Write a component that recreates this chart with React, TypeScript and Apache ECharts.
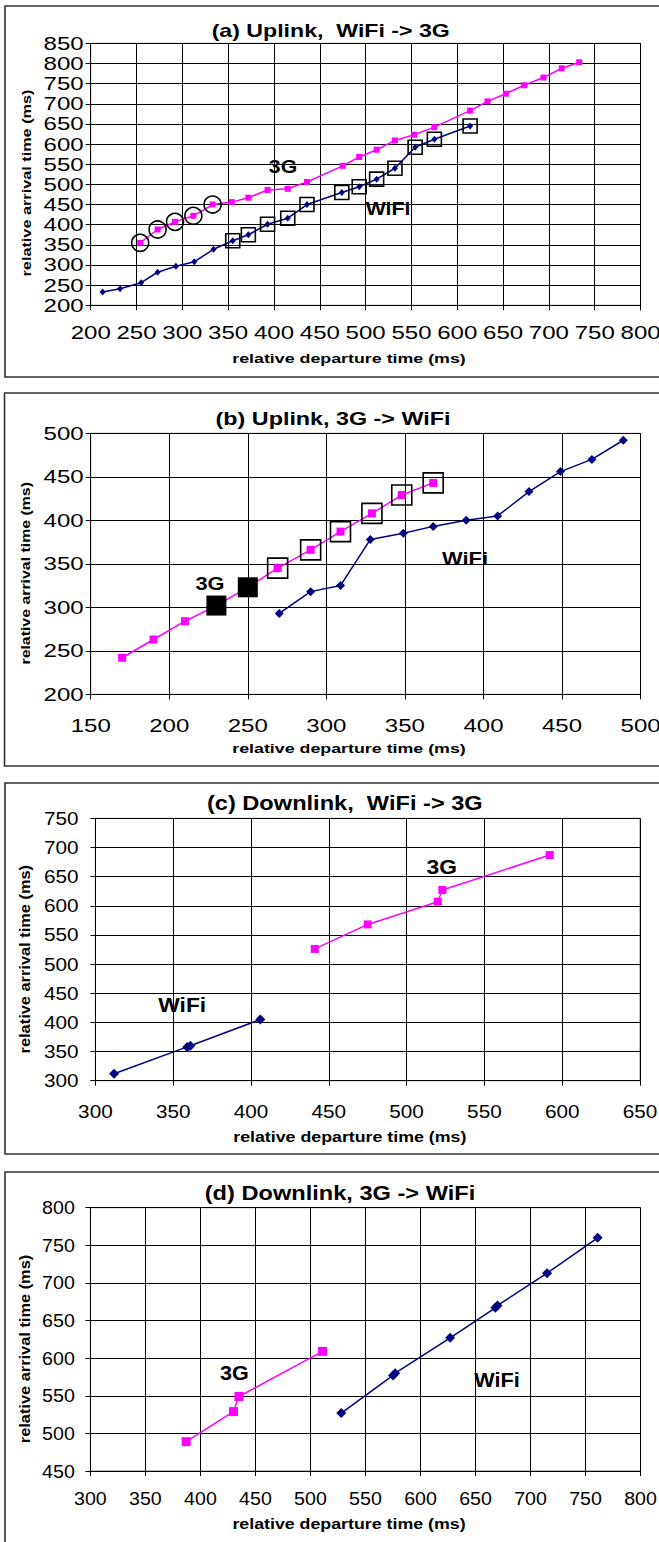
import React, { useEffect, useRef } from "react";
import * as echarts from "echarts";

// ---------- Panel (a) Uplink, WiFi -> 3G ----------
const aTitle = "(a) Uplink,  WiFi -> 3G";
const aXAxis = [200, 800, 50];
const aYAxis = [200, 850, 50];
const a3GX = [254, 273, 292, 312, 333, 354, 372, 393, 415, 436, 475, 493, 512, 532, 553, 575, 614, 633, 653, 673, 694, 714, 733];
const a3GY = [355, 388, 407, 422, 450, 456, 467, 486, 489, 506, 546, 568, 586, 609, 623, 642, 683, 706, 725, 746, 765, 788, 803];
const aWiFiX = [213, 232, 255, 273, 293, 313, 334, 355, 372, 393, 415, 436, 474, 493, 512, 532, 554, 575, 614];
const aWiFiY = [233, 241, 256, 282, 297, 308, 339, 360, 375, 401, 416, 450, 480, 494, 513, 540, 592, 612, 645];
const aCircled3G = [0, 1, 2, 3, 4];
const aBoxedWiFi = [7, 8, 9, 10, 11, 12, 13, 14, 15, 16, 17, 18];

// ---------- Panel (b) Uplink, 3G -> WiFi ----------
const bTitle = "(b) Uplink, 3G -> WiFi";
const bXAxis = [150, 500, 50];
const bYAxis = [200, 500, 50];
const b3GX = [170, 190, 210, 230, 250, 269, 290, 309, 329, 348, 368];
const b3GY = [242, 263, 284, 302, 323, 345, 366, 387, 408, 429, 443];
const bWiFiX = [270, 290, 309, 328, 349, 368, 389, 409, 429, 449, 469, 489];
const bWiFiY = [293, 318, 325, 378, 385, 393, 400, 405, 433, 456, 470, 492];
const bFilled3G = [3, 4];
const bBoxed3G = [5, 6, 7, 8, 9, 10];

// ---------- Panel (c) Downlink, WiFi -> 3G ----------
const cTitle = "(c) Downlink,  WiFi -> 3G";
const cXAxis = [300, 650, 50];
const cYAxis = [300, 750, 50];
const c3GX = [441, 475, 520, 523, 592];
const c3GY = [526, 568, 607, 627, 687];
const cWiFiX = [312, 359, 361, 406];
const cWiFiY = [312, 358, 360, 405];

// ---------- Panel (d) Downlink, 3G -> WiFi ----------
const dTitle = "(d) Downlink, 3G -> WiFi";
const dXAxis = [300, 800, 50];
const dYAxis = [450, 800, 50];
const d3GX = [387, 430, 435, 511];
const d3GY = [489, 529, 549, 609];
const dWiFiX = [528, 575, 577, 627, 668, 670, 715, 761];
const dWiFiY = [527, 577, 580, 627, 667, 670, 713, 760];

const xName = "relative departure time (ms)";
const yName = "relative arrival time (ms)";

const FONT = "'Liberation Sans', Arial, sans-serif";
const MAGENTA = "#FF00FF";
const NAVY = "#000080";

const zip = (xs: number[], ys: number[]) => xs.map((x, i) => [x, ys[i]]);
const pick = (xs: number[], ys: number[], idx: number[]) => idx.map((i) => [xs[i], ys[i]]);

type Panel = {
  top: number;
  height: number;
  title: string;
  xAxis: number[];
  yAxis: number[];
  grid: { left: number; right: number; top: number; bottom: number };
  frame: { x: number; y: number; h: number };
  titlePos: number[];
  titleSize: number;
  namePos: { x: number[]; y: number[] };
  nameSize: number;
  labels: { text: string; pos: number[] }[];
  labelSize: number;
  xLabelMargin: number;
  yLabelMargin: number;
  tickSize: number;
  stretch: { tick: number; title: number; xName: number; yName: number; label: number };
  series3G: number[][];
  seriesWiFi: number[][];
  square: number;
  diamond: number[];
  extras: any[];
};

const panels: Panel[] = [
  {
    top: 0,
    height: 385,
    title: aTitle,
    xAxis: aXAxis,
    yAxis: aYAxis,
    grid: { left: 90.7, right: 16.3, top: 43.3, bottom: 79.7 },
    frame: { x: 5, y: 6, h: 371 },
    titlePos: [330.7, 30.5],
    titleSize: 18.5,
    namePos: { x: [349, 358], y: [26.5, 183] },
    nameSize: 13,
    labels: [
      { text: "3G", pos: [283, 166] },
      { text: "WiFi", pos: [388, 208.5] },
    ],
    labelSize: 18.5,
    xLabelMargin: 18,
    yLabelMargin: 7,
    tickSize: 18.5,
    stretch: { tick: 1.3, title: 1.25, xName: 1.37, yName: 1.25, label: 1.15 },
    series3G: zip(a3GX, a3GY),
    seriesWiFi: zip(aWiFiX, aWiFiY),
    square: 6,
    diamond: [6, 7],
    extras: [
      { kind: "circle", size: 17, data: pick(a3GX, a3GY, aCircled3G) },
      { kind: "box", size: 14, data: pick(aWiFiX, aWiFiY, aBoxedWiFi) },
    ],
  },
  {
    top: 385,
    height: 390,
    title: bTitle,
    xAxis: bXAxis,
    yAxis: bYAxis,
    grid: { left: 90.7, right: 15.7, top: 48.3, bottom: 80.7 },
    frame: { x: 4.5, y: 8, h: 373 },
    titlePos: [333, 33],
    titleSize: 18.5,
    namePos: { x: [349, 363.3], y: [25.3, 188.3] },
    nameSize: 13,
    labels: [
      { text: "3G", pos: [210, 198.3] },
      { text: "WiFi", pos: [465, 173.3] },
    ],
    labelSize: 18.5,
    xLabelMargin: 21.5,
    yLabelMargin: 7,
    tickSize: 18.5,
    stretch: { tick: 1.3, title: 1.26, xName: 1.37, yName: 1.22, label: 1.18 },
    series3G: zip(b3GX, b3GY),
    seriesWiFi: zip(bWiFiX, bWiFiY),
    square: 8,
    diamond: [9, 9],
    extras: [
      { kind: "box", size: 20, data: pick(b3GX, b3GY, bBoxed3G) },
      { kind: "filled", size: 20, data: pick(b3GX, b3GY, bFilled3G) },
    ],
  },
  {
    top: 775,
    height: 388,
    title: cTitle,
    xAxis: cXAxis,
    yAxis: cYAxis,
    grid: { left: 95.4, right: 19, top: 43.3, bottom: 82.3 },
    frame: { x: 5, y: 8, h: 371 },
    titlePos: [344.8, 28],
    titleSize: 20,
    namePos: { x: [349.8, 361.7], y: [24.6, 184.2] },
    nameSize: 14,
    labels: [
      { text: "WiFi", pos: [182.2, 230] },
      { text: "3G", pos: [441.8, 92] },
    ],
    labelSize: 20,
    xLabelMargin: 21.7,
    yLabelMargin: 16.8,
    tickSize: 18.5,
    stretch: { tick: 1.12, title: 1.18, xName: 1.27, yName: 1.17, label: 1.14 },
    series3G: zip(c3GX, c3GY),
    seriesWiFi: zip(cWiFiX, cWiFiY),
    square: 8,
    diamond: [10, 10],
    extras: [],
  },
  {
    top: 1163,
    height: 379,
    title: dTitle,
    xAxis: dXAxis,
    yAxis: dYAxis,
    grid: { left: 90.4, right: 16, top: 44.7, bottom: 71 },
    frame: { x: 5, y: 9, h: 500 },
    titlePos: [340, 30],
    titleSize: 20,
    namePos: { x: [349, 361], y: [24.6, 186] },
    nameSize: 14,
    labels: [
      { text: "3G", pos: [234.3, 210.3] },
      { text: "WiFi", pos: [497, 217] },
    ],
    labelSize: 20,
    xLabelMargin: 17.75,
    yLabelMargin: 15.6,
    tickSize: 18.5,
    stretch: { tick: 1.06, title: 1.18, xName: 1.27, yName: 1.17, label: 1.08 },
    series3G: zip(d3GX, d3GY),
    seriesWiFi: zip(dWiFiX, dWiFiY),
    square: 9,
    diamond: [10, 10],
    extras: [],
  },
];

function axisCommon(range: number[], margin: number, size: number) {
  return {
    type: "value",
    min: range[0],
    max: range[1],
    interval: range[2],
    axisLine: { show: true, onZero: false, lineStyle: { color: "#000", width: 1 } },
    axisTick: { show: true, inside: false, length: 5, lineStyle: { color: "#000", width: 1 } },
    axisLabel: {
      show: true,
      margin,
      fontSize: size,
      fontFamily: FONT,
      color: "#000",
      showMinLabel: true,
      showMaxLabel: true,
    },
    splitLine: { show: true, lineStyle: { color: "#000", width: 1 } },
  };
}

function buildOption(p: Panel) {
  const series: any[] = [
    {
      type: "line",
      name: "WiFi",
      data: p.seriesWiFi,
      symbol: "diamond",
      symbolSize: p.diamond,
      lineStyle: { color: NAVY, width: 1.5 },
      itemStyle: { color: NAVY, opacity: 1 },
      z: 3,
      silent: true,
    },
    {
      type: "line",
      name: "3G",
      data: p.series3G,
      symbol: "rect",
      symbolSize: p.square,
      lineStyle: { color: MAGENTA, width: 1.5 },
      itemStyle: { color: MAGENTA, opacity: 1 },
      z: 3,
      silent: true,
    },
  ];
  p.extras.forEach((e) => {
    series.push({
      type: "scatter",
      data: e.data,
      symbol: e.kind === "circle" ? "circle" : "rect",
      symbolSize: e.size,
      itemStyle:
        e.kind === "filled"
          ? { color: "#000", opacity: 1 }
          : { color: "rgba(0,0,0,0)", borderColor: "#000", borderWidth: 1.6, opacity: 1 },
      z: e.kind === "filled" ? 6 : 5,
      silent: true,
    });
  });

  const graphic: any[] = [
    {
      type: "rect",
      shape: { x: p.frame.x, y: p.frame.y, width: 720, height: p.frame.h },
      style: { fill: "none", stroke: "#333", lineWidth: 1.6 },
      z: 0,
      silent: true,
    },
    {
      type: "text",
      x: p.titlePos[0],
      y: p.titlePos[1],
      style: {
        text: p.title,
        fontSize: p.titleSize,
        fontWeight: "bold",
        fontFamily: FONT,
        fill: "#000",
        align: "center",
        verticalAlign: "middle",
      },
      z: 10,
    },
    {
      type: "text",
      x: p.namePos.x[0],
      y: p.namePos.x[1],
      style: {
        text: xName,
        fontSize: p.nameSize,
        fontWeight: "bold",
        fontFamily: FONT,
        fill: "#000",
        align: "center",
        verticalAlign: "middle",
      },
      z: 10,
    },
    {
      type: "text",
      x: p.namePos.y[0],
      y: p.namePos.y[1],
      rotation: Math.PI / 2,
      style: {
        text: yName,
        fontSize: p.nameSize,
        fontWeight: "bold",
        fontFamily: FONT,
        fill: "#000",
        align: "center",
        verticalAlign: "middle",
      },
      z: 10,
    },
  ];
  p.labels.forEach((l) => {
    graphic.push({
      type: "text",
      x: l.pos[0],
      y: l.pos[1],
      style: {
        text: l.text,
        fontSize: p.labelSize,
        fontWeight: "bold",
        fontFamily: FONT,
        fill: "#000",
        align: "center",
        verticalAlign: "middle",
      },
      z: 10,
    });
  });

  return {
    animation: false,
    backgroundColor: "#fff",
    textStyle: { fontFamily: FONT },
    grid: {
      left: p.grid.left,
      right: p.grid.right,
      top: p.grid.top,
      bottom: p.grid.bottom,
      show: true,
      borderColor: "#808080",
      borderWidth: 1,
      backgroundColor: "#fff",
      containLabel: false,
    },
    xAxis: axisCommon(p.xAxis, p.xLabelMargin, p.tickSize),
    yAxis: axisCommon(p.yAxis, p.yLabelMargin, p.tickSize),
    series,
    graphic,
  };
}

function stretchTexts(el: HTMLElement, p: Panel) {
  const texts = el.querySelectorAll("text");
  texts.forEach((t) => {
    const s = (t.textContent || "").trim();
    if (!s) return;
    let f = p.stretch.tick;
    if (s === p.title.trim()) f = p.stretch.title;
    else if (s === xName) f = p.stretch.xName;
    else if (s === yName) f = p.stretch.yName;
    else if (s === "3G" || s === "WiFi") f = p.stretch.label;
    const len = (t as SVGTextElement).getComputedTextLength();
    if (len > 0) {
      t.setAttribute("textLength", String(len * f));
      t.setAttribute("lengthAdjust", "spacingAndGlyphs");
    }
  });
}

function PanelChart({ p }: { p: Panel }) {
  const ref = useRef<HTMLDivElement>(null);
  useEffect(() => {
    if (!ref.current) return;
    const chart = echarts.init(ref.current, undefined, { renderer: "svg" });
    chart.setOption(buildOption(p) as any);
    stretchTexts(ref.current, p);
    return () => chart.dispose();
  }, [p]);
  return (
    <div
      ref={ref}
      style={{ position: "absolute", left: 0, top: p.top, width: 659, height: p.height, overflow: "hidden" }}
    />
  );
}

export default function App() {
  return (
    <div style={{ position: "absolute", left: 0, top: 0, width: 659, height: 1542, background: "#fff", overflow: "hidden" }}>
      {panels.map((p, i) => (
        <PanelChart key={i} p={p} />
      ))}
    </div>
  );
}
